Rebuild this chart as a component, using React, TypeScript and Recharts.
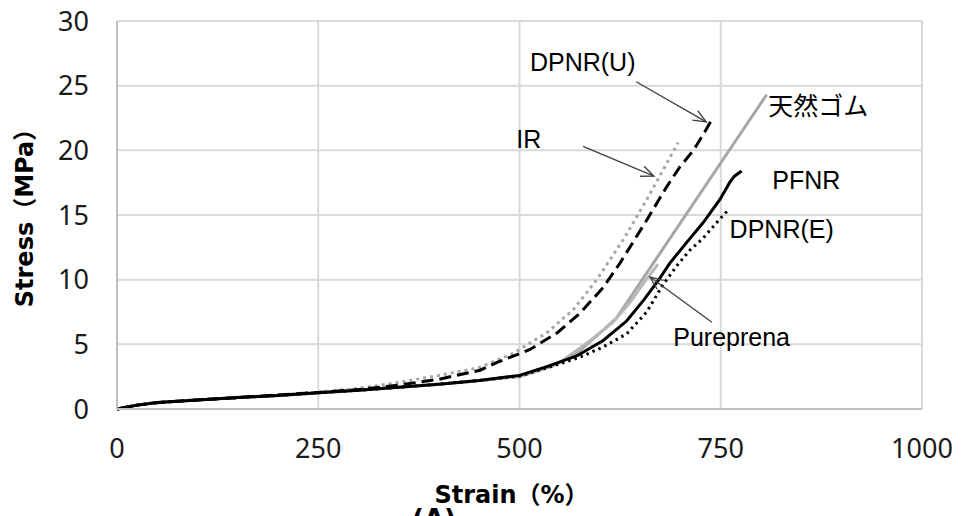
import {
  LineChart,
  Line,
  XAxis,
  YAxis,
  CartesianGrid,
  ReferenceLine,
  ReferenceDot,
  Label
} from 'recharts'

// strain (%) / stress (MPa) pairs
const naturalRubber = [
  [0, 0], [25, 0.3], [50, 0.5], [100, 0.7], [150, 0.88], [200, 1.05], [250, 1.25],
  [300, 1.45], [350, 1.68], [400, 1.92], [450, 2.2], [500, 2.5], [540, 3.3],
  [571, 4.3], [604, 6.1], [620, 7.0], [807, 24.3]
]
const pureprena = [
  [0, 0], [25, 0.3], [50, 0.5], [100, 0.7], [150, 0.88], [200, 1.05], [250, 1.25],
  [300, 1.45], [350, 1.68], [400, 1.92], [450, 2.2], [500, 2.55], [550, 3.6],
  [588, 5.3], [616, 6.7], [637, 8.2], [655, 9.8], [672, 11.2]
]
const pfnr = [
  [0, 0], [25, 0.3], [50, 0.5], [100, 0.7], [150, 0.88], [200, 1.05], [250, 1.25],
  [300, 1.45], [350, 1.68], [400, 1.92], [450, 2.2], [500, 2.6], [535, 3.3],
  [571, 4.1], [604, 5.3], [633, 6.8], [654, 8.4], [672, 9.9], [687, 11.3],
  [708, 12.9], [728, 14.4], [749, 16.2], [761, 17.5], [767, 18.0], [776, 18.4]
]
const dpnrE = [
  [0, 0], [25, 0.3], [50, 0.5], [100, 0.7], [150, 0.88], [200, 1.05], [250, 1.25],
  [300, 1.45], [350, 1.68], [400, 1.92], [450, 2.2], [500, 2.55], [540, 3.3],
  [575, 4.0], [604, 4.8], [633, 5.8], [658, 7.5], [678, 9.6], [697, 11.2],
  [712, 12.3], [728, 13.2], [749, 14.7], [758, 15.3]
]
const dpnrU = [
  [0, 0], [25, 0.3], [50, 0.48], [100, 0.7], [150, 0.88], [200, 1.08], [250, 1.28],
  [300, 1.5], [350, 1.85], [400, 2.3], [451, 3.0], [472, 3.6], [513, 4.6],
  [547, 5.9], [575, 7.4], [604, 9.4], [625, 11.3], [646, 13.4], [658, 14.6],
  [683, 17.2], [699, 18.7], [716, 20.0], [728, 21.2], [740, 22.5]
]
const ir = [
  [0, 0], [25, 0.3], [50, 0.5], [100, 0.72], [150, 0.9], [200, 1.1], [250, 1.3],
  [300, 1.6], [350, 2.05], [400, 2.6], [450, 3.2], [492, 4.3], [534, 5.9],
  [567, 7.7], [596, 10.0], [629, 13.1], [660, 16.4], [697, 20.6]
]

const xTicks = [0, 250, 500, 750, 1000]
const yTicks = [0, 5, 10, 15, 20, 25, 30]

const seriesLabels = [
  { text: 'DPNR(U)', x: 513, y: 26.8 },
  { text: 'IR', x: 496, y: 20.9 },
  { text: '天然ゴム', x: 809, y: 23.4 },
  { text: 'PFNR', x: 814, y: 17.7 },
  { text: 'DPNR(E)', x: 761, y: 13.9 },
  { text: 'Pureprena', x: 691, y: 5.6 }
]
const arrows = [
  { from: [645, 25.3], to: [732, 22.2] },
  { from: [579, 20.3], to: [667, 18.0] },
  { from: [739, 6.7], to: [662, 10.2] }
]

const toPoints = (pairs: number[][]) => pairs.map(([x, y]) => ({ x, y }))

const font = '"Noto Sans", "Noto Sans CJK JP", sans-serif'
const labelFont = '"Liberation Sans", Arial, "Noto Sans CJK JP", sans-serif'
const titleFont = '"DejaVu Sans", "Noto Sans CJK JP", sans-serif'

function Arrow(props: any) {
  const { x1, y1, x2, y2 } = props
  const a = Math.atan2(y2 - y1, x2 - x1)
  const len = 14
  const spread = 0.4
  const hx1 = x2 - len * Math.cos(a - spread)
  const hy1 = y2 - len * Math.sin(a - spread)
  const hx2 = x2 - len * Math.cos(a + spread)
  const hy2 = y2 - len * Math.sin(a + spread)
  return (
    <g stroke="#404040" strokeWidth={1.3} fill="none">
      <line x1={x1} y1={y1} x2={x2} y2={y2} />
      <polyline points={`${hx1},${hy1} ${x2},${y2} ${hx2},${hy2}`} />
    </g>
  )
}

export default function App() {
  return (
    <div
      style={{
        position: 'absolute',
        left: 0,
        top: 0,
        width: 964,
        height: 516,
        overflow: 'hidden',
        background: '#fff'
      }}
    >
      <LineChart
        width={964}
        height={516}
        margin={{ top: 21, right: 42, left: 0, bottom: 0 }}
      >
        <CartesianGrid stroke="#d9d9d9" strokeWidth={2} />
        <XAxis
          type="number"
          dataKey="x"
          domain={[0, 1000]}
          ticks={xTicks}
          height={107}
          axisLine={{ stroke: '#bfbfbf', strokeWidth: 2 }}
          tickLine={false}
          tickSize={0}
          tickMargin={30}
          tick={{ fill: '#1a1a1a', fontSize: 27, fontFamily: font }}
        >
          <Label
            value="Strain（%）"
            position="center"
            dx={-8}
            dy={32}
            style={{ fill: '#000', fontSize: 24, fontWeight: 'bold', fontFamily: titleFont }}
          />
        </XAxis>
        <YAxis
          type="number"
          domain={[0, 30]}
          ticks={yTicks}
          width={117}
          axisLine={{ stroke: '#bfbfbf', strokeWidth: 2 }}
          tickLine={false}
          tickSize={0}
          tickMargin={28}
          tick={{ fill: '#1a1a1a', fontSize: 27, fontFamily: font }}
        >
          <Label
            value="Stress（MPa）"
            angle={-90}
            position="center"
            dx={-34}
            dy={-3}
            style={{ fill: '#000', fontSize: 24, fontWeight: 'bold', fontFamily: titleFont, textAnchor: 'middle' }}
          />
        </YAxis>

        <Line data={toPoints(naturalRubber)} dataKey="y" type="linear" stroke="#a6a6a6" strokeWidth={3} dot={false} isAnimationActive={false} />
        <Line data={toPoints(pureprena)} dataKey="y" type="linear" stroke="#b8b8b8" strokeWidth={3} dot={false} isAnimationActive={false} />
        <Line data={toPoints(ir)} dataKey="y" type="linear" stroke="#a6a6a6" strokeWidth={3} strokeDasharray="3 4" dot={false} isAnimationActive={false} />
        <Line data={toPoints(dpnrU)} dataKey="y" type="linear" stroke="#000" strokeWidth={3} strokeDasharray="12 6" dot={false} isAnimationActive={false} />
        <Line data={toPoints(dpnrE)} dataKey="y" type="linear" stroke="#000" strokeWidth={3} strokeDasharray="2.5 4" dot={false} isAnimationActive={false} />
        <Line data={toPoints(pfnr)} dataKey="y" type="linear" stroke="#000" strokeWidth={3} dot={false} isAnimationActive={false} />

        {arrows.map((a, i) => (
          <ReferenceLine
            key={'arrow' + i}
            segment={[
              { x: a.from[0], y: a.from[1] },
              { x: a.to[0], y: a.to[1] }
            ]}
            shape={Arrow}
          />
        ))}
        {seriesLabels.map((l) => (
          <ReferenceDot
            key={l.text}
            x={l.x}
            y={l.y}
            r={0}
            shape={(p: any) => (
              <text
                x={p.cx}
                y={p.cy}
                dominantBaseline="central"
                fontSize={25}
                fontFamily={labelFont}
                fill="#000"
              >
                {l.text}
              </text>
            )}
          />
        ))}
      </LineChart>
      <div
        style={{
          position: 'absolute',
          left: 412,
          top: 506,
          fontSize: 26,
          lineHeight: '26px',
          fontFamily: titleFont,
          fontWeight: 'bold'
        }}
      >
        (A)
      </div>
    </div>
  )
}
